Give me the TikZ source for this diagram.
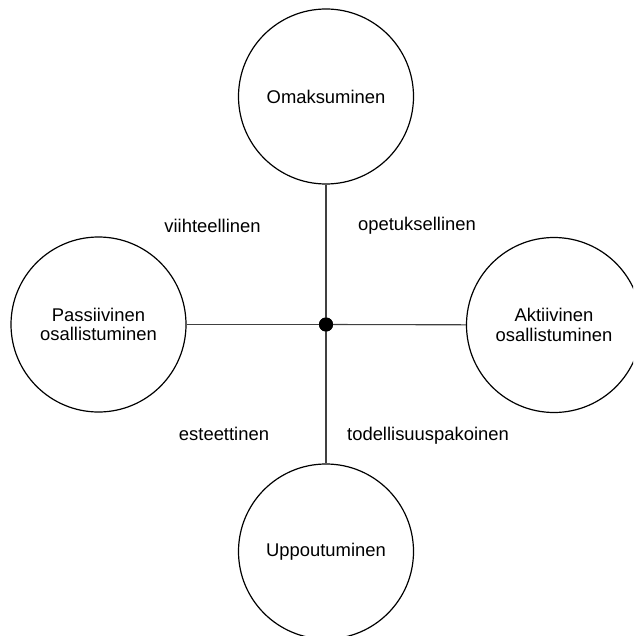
\documentclass[tikz,border=0pt]{standalone}
\usepackage{fontspec}
\setmainfont{Liberation Sans}
\begin{document}
\begin{tikzpicture}[x=1pt,y=-1pt,
  bigcircle/.style={circle,draw=black,line width=1.2pt,minimum size=175pt,inner sep=0pt,align=center,font=\fontsize{18.4}{19.5}\selectfont},
  hub/.style={circle,fill=black,minimum size=14pt,inner sep=0pt},
  spoke/.style={draw=black!75,line width=1.1pt},
  lbl/.style={anchor=base,inner sep=0pt,font=\fontsize{18.4}{22}\selectfont}]
\useasboundingbox (0,0) rectangle (633,636);
\clip (0,0) rectangle (633,636);
\node[bigcircle] (top) at (326,96.5) {Omaksuminen};
\node[bigcircle] (left) at (98.5,324.5) {Passiivinen\\osallistuminen};
\node[bigcircle] (right) at (554,325) {Aktiivinen\\osallistuminen};
\node[bigcircle] (bottom) at (326,551.5) {Uppoutuminen};
\node[hub] (c) at (326,324.5) {};
\draw[spoke] (top) -- (c.center);
\draw[spoke] (left) -- (c.center);
\draw[spoke] (right) -- (c.center);
\draw[spoke] (bottom) -- (c.center);
\node[hub] (c2) at (c) {};
\node[lbl] (l1) at (212.5,232.7) {viihteellinen};
\node[lbl] (l2) at (417,230.7) {opetuksellinen};
\node[lbl] (l3) at (224,440.7) {esteettinen};
\node[lbl] (l4) at (428,440.7) {todellisuuspakoinen};
\end{tikzpicture}
\end{document}
